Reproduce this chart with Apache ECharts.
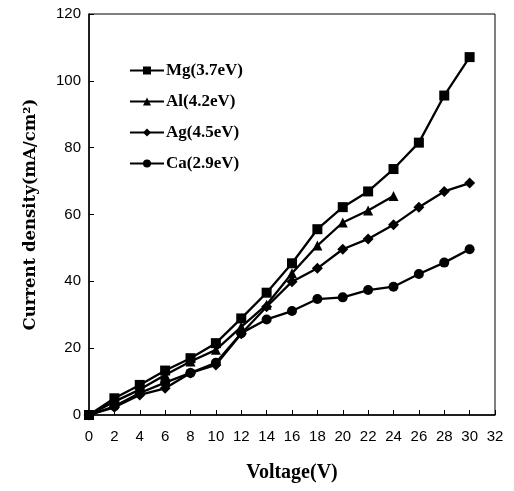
<!DOCTYPE html>
<html>
<head>
<meta charset="utf-8">
<script src="https://cdn.jsdelivr.net/npm/echarts@6/dist/echarts.min.js"></script>
<style>html,body{margin:0;padding:0;background:#fff}#c{width:514px;height:491px}</style>
</head>
<body>
<div id="c"></div>
<script>
const voltage = [0,2,4,6,8,10,12,14,16,18,20,22,24,26,28,30];
const mg = [0,5,9,13.3,17,21.5,28.9,36.6,45.4,55.6,62.2,66.9,73.6,81.5,95.6,107.1];
const al = [0,4,7.6,12,16,19.5,26.4,33,42.4,50.7,57.6,61.2,65.5];
const ag = [0,2.3,6,8,12.6,15,24.3,32.4,39.9,43.9,49.6,52.7,56.9,62.2,66.9,69.4];
const ca = [0,2.6,6.6,9.7,12.6,15.6,24.5,28.6,31.1,34.7,35.2,37.4,38.4,42.2,45.6,49.6];
const seriesNames = ['Mg(3.7eV)','Al(4.2eV)','Ag(4.5eV)','Ca(2.9eV)'];
const xTicks = {min:0,max:32,interval:2};
const yTicks = {min:0,max:120,interval:20};

const pair = arr => arr.map((v,i)=>[voltage[i],v]);
const symbols = ['rect','triangle','diamond','circle'];
const sizes = [10,10,11,10];
const datas = [mg,al,ag,ca];
const chart = echarts.init(document.getElementById('c'));
chart.setOption({
  animation:false,
  backgroundColor:'#fff',
  grid:{left:89,right:19,top:14,bottom:76,show:true,borderColor:'#000',borderWidth:1},
  legend:{
    orient:'vertical',left:124,top:57,itemGap:14,itemWidth:34,itemHeight:10,
    data:seriesNames,
    textStyle:{fontFamily:'Liberation Serif',fontWeight:'bold',fontSize:17,color:'#000',padding:[0,0,0,-3]},
  },
  xAxis:{
    type:'value',min:xTicks.min,max:xTicks.max,interval:xTicks.interval,
    name:'Voltage(V)',nameLocation:'middle',nameGap:48,
    nameTextStyle:{fontFamily:'Liberation Serif',fontWeight:'bold',fontSize:20,color:'#000'},
    axisLine:{onZero:false,lineStyle:{color:'#000',width:1.5}},
    axisTick:{inside:true,length:5,lineStyle:{color:'#000'}},
    axisLabel:{fontFamily:'Liberation Sans',fontSize:15,color:'#000',margin:14},
    splitLine:{show:false}
  },
  yAxis:{
    type:'value',min:yTicks.min,max:yTicks.max,interval:yTicks.interval,
    name:'Current density(mA/cm\u00B2)',nameLocation:'middle',nameGap:50,
    nameTextStyle:{fontFamily:'DejaVu Serif',fontWeight:'bold',fontSize:16.5,color:'#000'},
    axisLine:{onZero:false,lineStyle:{color:'#000',width:1.5}},
    axisTick:{inside:true,length:5,lineStyle:{color:'#000'}},
    axisLabel:{fontFamily:'Liberation Sans',fontSize:15,color:'#000',margin:8},
    splitLine:{show:false}
  },
  series:datas.map((d,k)=>({
    name:seriesNames[k],type:'line',data:pair(d),
    symbol:symbols[k],symbolSize:sizes[k],
    lineStyle:{color:'#000',width:2.3},
    itemStyle:{color:'#000'},
    emphasis:{disabled:true}
  }))
});
</script>
</body>
</html>
